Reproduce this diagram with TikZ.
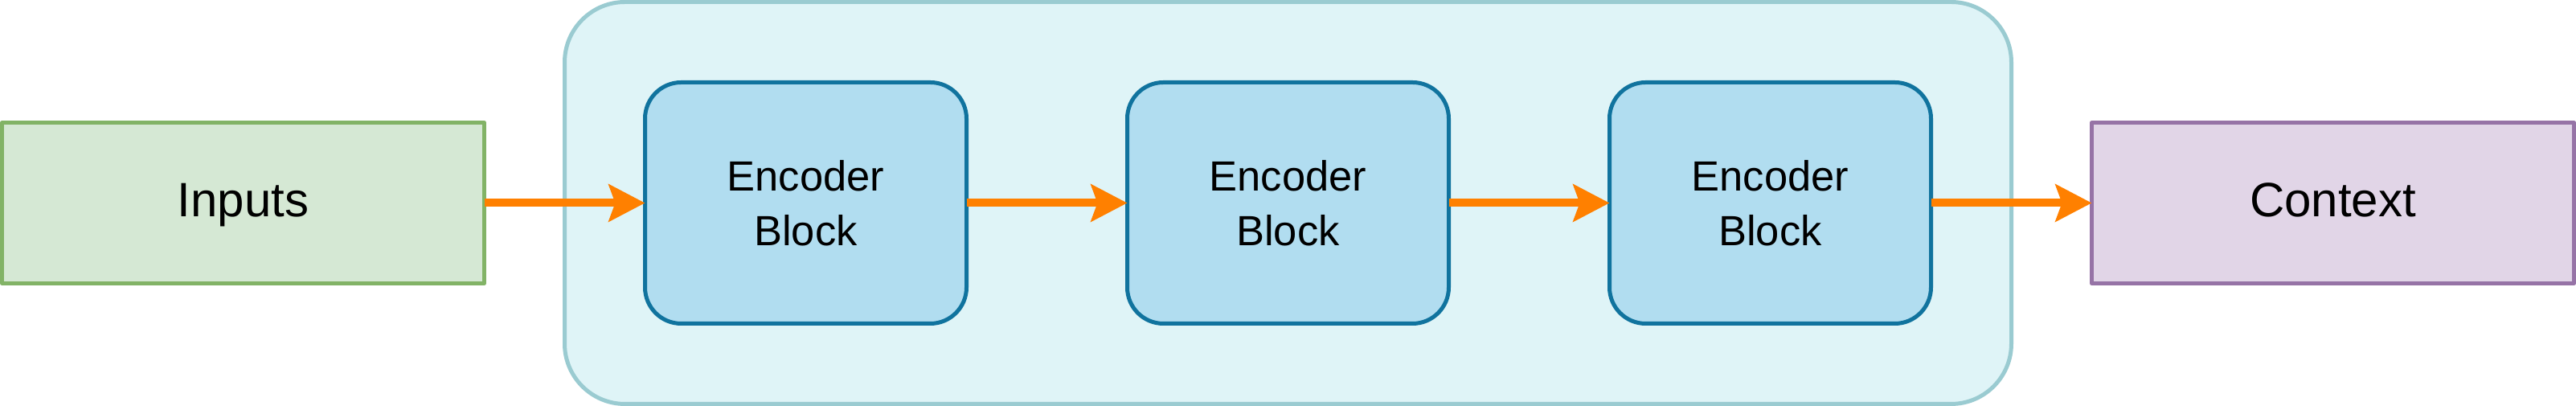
\documentclass[tikz,border=0pt]{standalone}
\usepackage{fontspec}
\setmainfont{Liberation Sans}
\usepackage{xcolor}
\usepackage{tikz}
\usetikzlibrary{arrows.meta}
\definecolor{inputfill}{HTML}{D5E8D4}
\definecolor{inputline}{HTML}{82B366}
\definecolor{ctxfill}{HTML}{E1D5E7}
\definecolor{ctxline}{HTML}{9673A6}
\definecolor{stackfill}{HTML}{DFF4F7}
\definecolor{stackline}{HTML}{9ACBD1}
\definecolor{blockfill}{HTML}{B1DDF0}
\definecolor{blockline}{HTML}{10739E}
\definecolor{floworange}{HTML}{FF8000}
\tikzset{
  IOBox/.style={
    draw, line width=1pt, inner sep=0pt, outer sep=0pt,
    minimum width=120pt, minimum height=40pt,
    text height=8.6pt, text depth=1.6pt,
    font=\fontsize{12}{14.4}\selectfont
  },
  EncBlock/.style={
    draw=blockline, fill=blockfill, line width=1pt,
    rounded corners=9pt, inner sep=0pt, outer sep=0pt,
    minimum width=80pt, minimum height=60pt, align=center,
    font=\fontsize{10.5}{13.6}\selectfont
  },
  Flow/.style={
    draw=floworange, line width=2pt,
    -{Stealth[length=9pt,width=9.2pt,inset=1.6pt]}
  }
}
\begin{document}
\begin{tikzpicture}[x=1pt, y=1pt, line join=round]
  \useasboundingbox (0,0) rectangle (641,101);

  % the stack that holds the encoder blocks
  \node[draw=stackline, fill=stackfill, line width=1pt, rounded corners=15pt,
        inner sep=0pt, minimum width=360pt, minimum height=100pt]
        (stack) at (320.5,50.5) {};

  % input and output
  \node[IOBox, draw=inputline, fill=inputfill] (inputs) at (60.5,50.5) {Inputs};
  \node[IOBox, draw=ctxline, fill=ctxfill] (context) at (580.5,50.5) {Context};

  % encoder blocks
  \foreach \i/\x in {1/200.5, 2/320.5, 3/440.5}
    \node[EncBlock] (enc\i) at (\x,50.5) {Encoder\\Block};

  % data flow
  \draw[Flow] (inputs) -- (enc1);
  \draw[Flow] (enc1) -- (enc2);
  \draw[Flow] (enc2) -- (enc3);
  \draw[Flow] (enc3) -- (context);
\end{tikzpicture}
\end{document}
